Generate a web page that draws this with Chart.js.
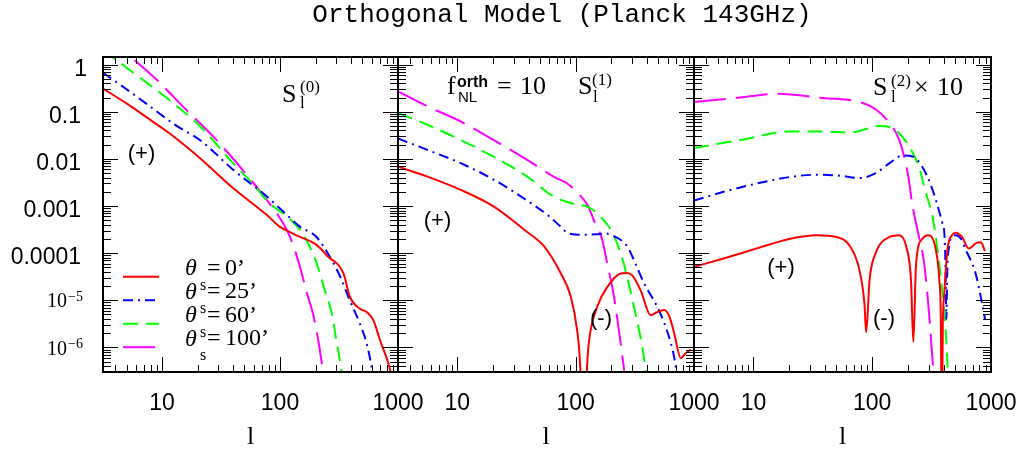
<!DOCTYPE html>
<html><head><meta charset="utf-8">
<script src="https://cdn.jsdelivr.net/npm/chart.js@4/dist/chart.umd.min.js"></script>
<style>
body{margin:0;background:#fff;}
#wrap{position:relative;width:1021px;height:456px;overflow:hidden;}
#wrap canvas{position:absolute;left:0;top:0;}
</style>
</head><body>
<div id="wrap">
<canvas id="c0" width="1021" height="456"></canvas>
<canvas id="c1" width="1021" height="456"></canvas>
<canvas id="c2" width="1021" height="456"></canvas>
</div>
<script>
// ---------- data ----------
const chartTitle = 'Orthogonal Model (Planck 143GHz)';
const seriesNames = ["0\u2019", "25\u2019", "60\u2019", "100\u2019"];
const xTickValues = [10, 100, 1000];
const xTickLabels = ['10', '100', '1000'];
const yTickValues = [1, 0.1, 0.01, 0.001, 0.0001, 1e-5, 1e-6];
const yTickLabels = ['1', '0.1', '0.01', '0.001', '0.0001', '10^\u22125', '10^\u22126'];
const xMin = 3.16, xMax = 1000, yMin = 3e-7, yMax = 1.45;

// Panel 1: S_l^(0)
const s0_l_t0 = [3.16,5,7.9,11.7,21,40,77,100,125,148,200,255,345,390,475,543,620,705,830,900];
const s0_v_t0 = [0.31,0.15,0.068,0.034,0.0103,0.0024,6.5e-4,3.6e-4,2.7e-4,2.2e-4,1.55e-4,8.5e-5,3.7e-5,1.2e-5,6.6e-6,5.6e-6,3.7e-6,1.4e-6,4.5e-7,2e-7];
const s0_l_t25 = [3.16,5,7.9,13,21,40,77,114,148,200,265,325,390,475,543,590,630];
const s0_v_t25 = [0.67,0.3,0.13,0.052,0.025,0.0059,0.0016,6.5e-4,3.6e-4,2.3e-4,8.3e-5,3.1e-5,1e-5,3.2e-6,1.2e-6,4.5e-7,1.5e-7];
const s0_l_t60 = [3.16,3.75,5.7,11,21,40,60,80,114,148,173,205,240,275,300,325,345];
const s0_v_t60 = [2.0,1.48,0.67,0.195,0.049,0.0081,0.0028,0.0012,6e-4,3.1e-4,1.6e-4,6e-5,1.6e-5,5.2e-6,1.4e-6,4.5e-7,1.5e-7];
const s0_l_t100 = [3.16,5.4,9,15,29,60,80,100,115,129,148,168,191,211,225,240];
const s0_v_t100 = [4.8,1.48,0.48,0.13,0.025,0.003,1.2e-3,5.5e-4,3e-4,1.5e-4,5e-5,1.5e-5,5e-6,1.4e-6,5e-7,1.5e-7];

// Panel 2: S_l^(1)
const s1_l_t0 = [3.16,5.6,10.7,20.4,37,54,75,91,103,109,113,117,121,125,130,152,185,240,270,300,355,430,480,558,620,680,773,850,940];
const s1_v_t0 = [0.0068,0.0042,0.0022,9.7e-4,3.1e-4,1.4e-4,3.7e-5,1.2e-5,2.3e-6,4.5e-7,3e-8,1e-10,3e-8,4e-7,1.4e-6,7.2e-6,1.9e-5,3.7e-5,3.8e-5,3.4e-5,1.6e-5,4.8e-6,5.5e-6,6.2e-6,4.5e-6,2e-6,5.9e-7,7.5e-7,9e-7];
const s1_l_t25 = [3.16,5.6,10.7,20.4,39,60,75,85,110,150,180,210,272,320,378,490,590,680,720,760];
const s1_v_t25 = [0.027,0.0155,0.0081,0.0036,0.0013,6e-4,3.6e-4,2.7e-4,2.45e-4,2.5e-4,2.6e-4,2.3e-4,1.4e-4,6e-5,2.3e-5,7.2e-6,2.3e-6,6.2e-7,2.5e-7,1e-7];
const s1_l_t60 = [3.16,5.6,10.7,20.4,39,65,97,125,163,210,255,290,330,370,400];
const s1_v_t60 = [0.094,0.053,0.025,0.011,0.0042,0.0016,0.0011,9.7e-4,5.9e-4,2.4e-4,6e-5,1.6e-5,3.7e-6,8.5e-7,2e-7];
const s1_l_t100 = [3.16,5.6,10.7,20.4,39,65,85,106,126,145,168,185,211,232,253,262];
const s1_v_t100 = [0.27,0.13,0.062,0.025,0.0095,0.0042,0.003,0.0018,1.05e-3,4.5e-4,1.9e-4,6e-5,1.2e-5,2.3e-6,4.5e-7,2e-7];

// Panel 3: S_l^(2) x 10
const s2_l_t0 = [3.16,5.6,10.7,20,34,50,65,78,86,89,95,107,140,169,193,212,222,234,264,300,343,367,378,385,393,403,430,470,505,570,650,700,740,820,890];
const s2_v_t0 = [5.1e-5,7.7e-5,1.26e-4,2e-4,2.4e-4,2.2e-4,1.4e-4,4.4e-5,8.5e-6,2.1e-6,2.7e-5,1e-4,2.2e-4,2.4e-4,1.4e-4,2.7e-5,1.3e-6,6e-5,2e-4,2.4e-4,1.2e-4,2.7e-5,4e-6,1e-8,3e-6,1.2e-5,1.2e-4,2.4e-4,2.7e-4,2.2e-4,1.26e-4,1.4e-4,1.6e-4,1.7e-4,1.1e-4];
const s2_l_t25 = [3.16,5.6,10.7,20,34,53,78,107,140,180,219,264,322,390,405,415,421,428,444,471,505,560,611,742,842,890];
const s2_v_t25 = [0.0013,0.002,0.003,0.0041,0.0046,0.0044,0.0039,0.005,0.0081,0.0118,0.0112,0.0068,0.0022,4.3e-4,2.6e-4,4e-5,4e-6,4e-5,1.4e-4,2.2e-4,2.4e-4,2e-4,1.2e-4,3.7e-5,8.4e-6,4e-6];
const s2_l_t60 = [3.16,7.7,20,38.5,65,89,115,140,169,205,247,283,322,340,380,415,430,445];
const s2_v_t60 = [0.017,0.025,0.038,0.038,0.036,0.043,0.05,0.047,0.035,0.018,0.0068,0.0019,6e-4,2.5e-4,2.7e-5,2.3e-6,4.5e-7,1e-7];
const s2_l_t100 = [3.16,7.7,15.7,38.5,78,108,140,169,199,219,245,274,301,326,340];
const s2_v_t100 = [0.16,0.2,0.24,0.195,0.16,0.11,0.057,0.025,0.005,9.7e-4,2.5e-4,6e-5,5.2e-6,3.3e-7,5e-8];

// ---------- styles / layout ----------
const seriesColors = ['#ff0000', '#0000ff', '#00ff00', '#ff00ff'];
const seriesDash = [[], [10, 5, 2, 5], [15, 8], [32, 10]];
const W = 1021, H = 456, TOP = 57, BOTTOM = 372;
const panelX = [[103, 398], [398, 694], [694, 991]];
const SANS = '"Liberation Sans", Arial, sans-serif';
const SERIF = '"Liberation Serif", "DejaVu Serif", serif';
const MONO = '"Liberation Mono", "DejaVu Sans Mono", monospace';

function txt(ctx, s, x, y, font, align) {
  ctx.font = font; ctx.textAlign = align || 'left'; ctx.textBaseline = 'middle';
  ctx.fillStyle = '#000'; ctx.fillText(s, x, y);
}
function seg(ctx, x1, y1, x2, y2) { ctx.beginPath(); ctx.moveTo(x1, y1); ctx.lineTo(x2, y2); ctx.stroke(); }

function panelPlugin(pi) {
  return {
    id: 'panel' + pi,
    afterDatasetsDraw(chart) {
      const ctx = chart.ctx, xs = chart.scales.x, ys = chart.scales.y, a = chart.chartArea;
      ctx.save();
      ctx.strokeStyle = '#000'; ctx.lineWidth = 1; ctx.setLineDash([]);
      for (let d = 0; d <= 3; d++) for (let m = 1; m <= 9; m++) {
        const v = m * Math.pow(10, d);
        if (v < xMin || v > xMax) continue;
        const px = Math.round(xs.getPixelForValue(v)) + 0.5;
        const len = m === 1 ? 15 : 7;
        seg(ctx, px, a.bottom, px, a.bottom - len);
        seg(ctx, px, a.top, px, a.top + len);
      }
      for (let d = -7; d <= 0; d++) for (let m = 1; m <= 9; m++) {
        const v = m * Math.pow(10, d);
        if (v < yMin || v > yMax) continue;
        const py = Math.round(ys.getPixelForValue(v)) + 0.5;
        const len = m === 1 ? 15 : 8;
        seg(ctx, a.left, py, a.left + len, py);
        seg(ctx, a.right, py, a.right - len, py);
      }
      ctx.lineWidth = 2;
      ctx.strokeRect(a.left, a.top, a.right - a.left, a.bottom - a.top);
      ctx.restore();
    },
    afterDraw(chart) {
      const ctx = chart.ctx, xs = chart.scales.x, ys = chart.scales.y, a = chart.chartArea;
      ctx.save();
      xTickValues.forEach((v, i) => txt(ctx, xTickLabels[i], xs.getPixelForValue(v), 404, '23px ' + SANS, 'center'));
      txt(ctx, 'l', (a.left + a.right) / 2, 437, '26px ' + SERIF, 'center');
      if (pi === 0) {
        txt(ctx, chartTitle, 562, 15, '26px ' + MONO, 'center');
        yTickValues.forEach((v, i) => {
          const py = ys.getPixelForValue(v);
          const lab = yTickLabels[i];
          if (lab.indexOf('^') >= 0) {
            const parts = lab.split('^');
            txt(ctx, parts[0], 67, py + 2, '20px ' + SERIF, 'right');
            txt(ctx, parts[1], 68, py - 3, '14px ' + SERIF, 'left');
          } else {
            txt(ctx, lab, lab === '1' ? 87 : 81, py + 5, '23px ' + SANS, 'right');
          }
        });
        for (let k = 0; k < 4; k++) {
          const yl = 276.7 + k * 23.5;
          ctx.strokeStyle = seriesColors[k]; ctx.lineWidth = 2; ctx.setLineDash(seriesDash[k]);
          seg(ctx, 123, yl, 159, yl);
          ctx.setLineDash([]);
          txt(ctx, '\u03B8', 185, yl - 8, 'italic 24px ' + SERIF, 'left');
          txt(ctx, 's', 200, yl + 9, '16px ' + SERIF, 'left');
          txt(ctx, '=', 207, yl - 8, '24px ' + SERIF, 'left');
          txt(ctx, seriesNames[k], 225, yl - 8, '24px ' + SERIF, 'left');
        }
        txt(ctx, 'S', 282, 95, '26px ' + SERIF, 'left');
        txt(ctx, '(0)', 300, 88, '17px ' + SERIF, 'left');
        txt(ctx, 'l', 300, 104, '17px ' + SERIF, 'left');
        txt(ctx, '(+)', 141.5, 154, '22px ' + SANS, 'center');
      } else if (pi === 1) {
        txt(ctx, 'f', 447, 87, '26px ' + SERIF, 'left');
        txt(ctx, 'orth', 457, 83, 'bold 16px ' + SANS, 'left');
        txt(ctx, 'NL', 458, 98, '15px ' + SANS, 'left');
        txt(ctx, '=', 497, 87, '26px ' + SERIF, 'left');
        txt(ctx, '10', 520, 87, '26px ' + SERIF, 'left');
        txt(ctx, 'S', 578, 87, '26px ' + SERIF, 'left');
        txt(ctx, '(1)', 592, 81, '17px ' + SERIF, 'left');
        txt(ctx, 'l', 593, 98, '17px ' + SERIF, 'left');
        txt(ctx, '(+)', 437.5, 221, '22px ' + SANS, 'center');
        txt(ctx, '(-)', 601, 319, '22px ' + SANS, 'center');
      } else {
        txt(ctx, 'S', 873, 88, '26px ' + SERIF, 'left');
        txt(ctx, '(2)', 891, 82, '17px ' + SERIF, 'left');
        txt(ctx, 'l', 891, 98, '17px ' + SERIF, 'left');
        txt(ctx, '\u00D7', 914, 88, '26px ' + SERIF, 'left');
        txt(ctx, '10', 937, 88, '26px ' + SERIF, 'left');
        txt(ctx, '(+)', 781, 268, '22px ' + SANS, 'center');
        txt(ctx, '(-)', 884, 319, '22px ' + SANS, 'center');
      }
      ctx.restore();
    }
  };
}

function makePanel(pi, ls, vs) {
  const datasets = ls.map((l, k) => ({
    label: '\u03B8s=' + seriesNames[k],
    data: l.map((x, i) => ({ x: x, y: vs[k][i] })),
    borderColor: seriesColors[k],
    borderWidth: 2,
    borderDash: seriesDash[k],
    pointRadius: 0,
    fill: false,
    tension: 0.4,
    cubicInterpolationMode: 'monotone'
  }));
  return new Chart(document.getElementById('c' + pi), {
    type: 'line',
    data: { datasets: datasets },
    options: {
      responsive: false, animation: false, devicePixelRatio: 1, events: [],
      layout: { padding: { left: panelX[pi][0], right: W - panelX[pi][1], top: TOP, bottom: H - BOTTOM } },
      scales: {
        x: { type: 'logarithmic', min: xMin, max: xMax, display: false },
        y: { type: 'logarithmic', min: yMin, max: yMax, display: false }
      },
      plugins: { legend: { display: false }, tooltip: { enabled: false }, title: { display: false } }
    },
    plugins: [panelPlugin(pi)]
  });
}

makePanel(0, [s0_l_t0, s0_l_t25, s0_l_t60, s0_l_t100], [s0_v_t0, s0_v_t25, s0_v_t60, s0_v_t100]);
makePanel(1, [s1_l_t0, s1_l_t25, s1_l_t60, s1_l_t100], [s1_v_t0, s1_v_t25, s1_v_t60, s1_v_t100]);
makePanel(2, [s2_l_t0, s2_l_t25, s2_l_t60, s2_l_t100], [s2_v_t0, s2_v_t25, s2_v_t60, s2_v_t100]);
</script>
</body></html>
